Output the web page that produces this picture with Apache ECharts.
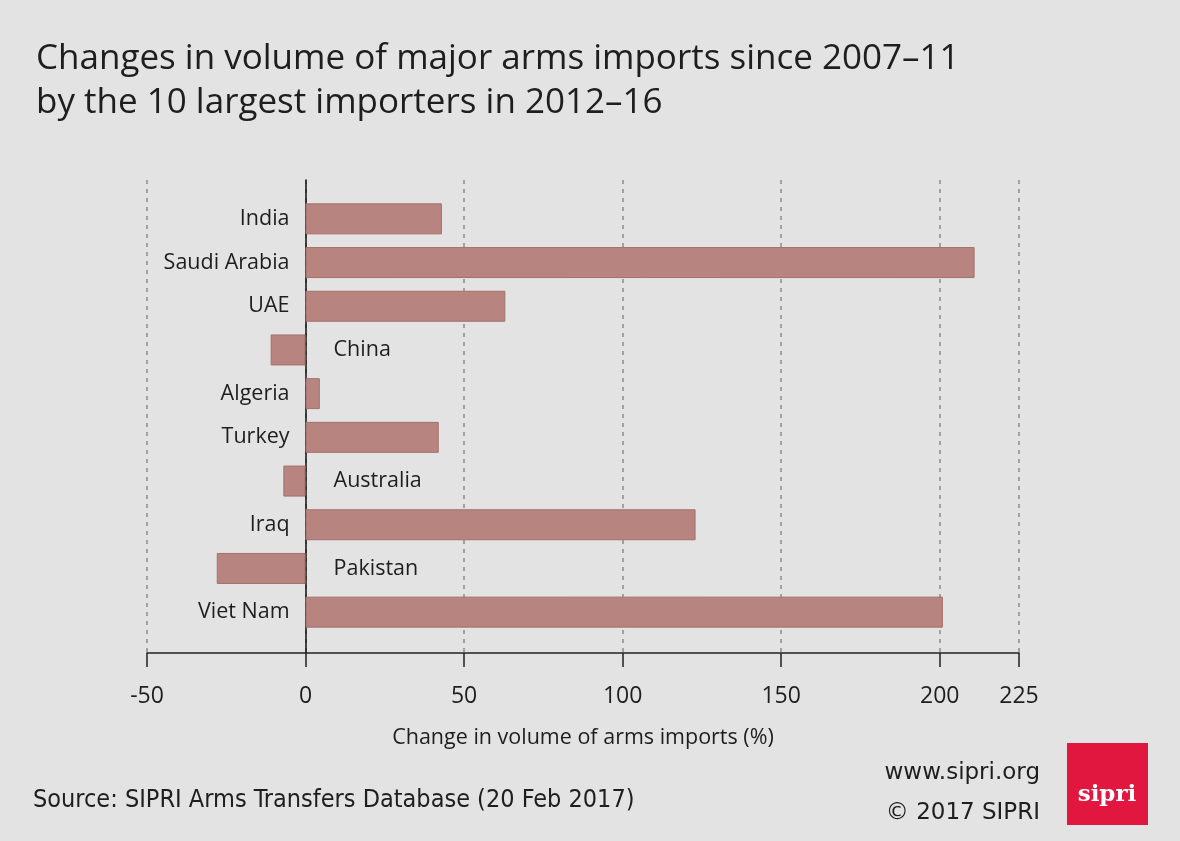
<!DOCTYPE html>
<html>
<head>
<meta charset="utf-8">
<script src="https://cdn.jsdelivr.net/npm/echarts@6/dist/echarts.min.js"></script>
<style>
html,body{margin:0;padding:0;background:#e3e3e3;}
#chart{width:1180px;height:841px;}
</style>
</head>
<body>
<div id="chart"></div>
<script>
const countries = ['India','Saudi Arabia','UAE','China','Algeria','Turkey','Australia','Iraq','Pakistan','Viet Nam'];
const changes = [43, 211, 63, -11, 4.5, 42, -7, 123, -28, 201];
const tickValues = [-50, 0, 50, 100, 150, 200, 225];
const gridValues = [-50, 50, 100, 150, 200, 225];
const xMin = -50, xMax = 225;

const chart = echarts.init(document.getElementById('chart'));
const textColor = '#1e1e1e';
const labelFont = 'Open Sans';

const barData = changes.map(v => ({
  value: v,
  label: { position: v >= 0 ? 'left' : 'right', distance: v >= 0 ? 16 : 28 }
}));

chart.setOption({
  backgroundColor: '#e3e3e3',
  animation: false,
  title: {
    text: 'Changes in volume of major arms imports since 2007\u201311\nby the 10 largest importers in 2012\u201316',
    left: 31, top: 32,
    textStyle: { fontFamily: 'Open Sans', fontWeight: 'normal', fontSize: 35, lineHeight: 44, color: textColor }
  },
  grid: [
    { left: 147, right: 161, top: 180, bottom: 188 },
    { left: 147, right: 161, top: 197, bottom: 207 }
  ],
  xAxis: [
    {
      gridIndex: 0, type: 'value', min: xMin, max: xMax,
      axisLine: { show: true, lineStyle: { color: '#222', width: 1.5 } },
      axisTick: { show: true, customValues: tickValues, length: 14, lineStyle: { color: '#222', width: 1.5 } },
      axisLabel: { customValues: tickValues, margin: 32, fontFamily: labelFont, fontSize: 23, color: textColor },
      splitLine: { show: true, customValues: gridValues, lineStyle: { color: '#8c8c8c', width: 1.5, type: [4, 5] } },
      name: 'Change in volume of arms imports (%)',
      nameLocation: 'middle', nameGap: 74,
      nameTextStyle: { fontFamily: labelFont, fontSize: 21.5, color: textColor }
    },
    {
      gridIndex: 1, type: 'value', min: xMin, max: xMax, show: false,
      splitLine: { show: false }
    }
  ],
  yAxis: [
    {
      gridIndex: 0, type: 'value', min: 0, max: 1,
      axisLine: { show: true, onZero: true, lineStyle: { color: '#111', width: 1.5 } },
      axisTick: { show: false }, axisLabel: { show: false }, splitLine: { show: false }
    },
    {
      gridIndex: 1, type: 'category', data: countries, inverse: true, show: false
    }
  ],
  series: [
    {
      type: 'bar', xAxisIndex: 1, yAxisIndex: 1,
      data: barData, barWidth: 31,
      itemStyle: { color: '#b8847f', borderColor: '#a4706c', borderWidth: 1 },
      label: {
        show: true, formatter: '{b}',
        fontFamily: labelFont, fontSize: 21.5, color: textColor
      }
    }
  ],
  graphic: [
    { type: 'text', left: 33, top: 788,
      style: { text: 'Source: SIPRI Arms Transfers Database (20 Feb 2017)', font: '25px "Liberation Sans Narrow", "DejaVu Sans Condensed", sans-serif', fill: textColor } },
    { type: 'text', right: 140, top: 762,
      style: { text: 'www.sipri.org', font: '23px "DejaVu Sans"', fill: textColor, textAlign: 'right' } },
    { type: 'text', right: 140, top: 802,
      style: { text: '\u00a9 2017 SIPRI', font: '23px "DejaVu Sans"', fill: textColor, textAlign: 'right' } },
    { type: 'rect', shape: { x: 1067, y: 743, width: 81, height: 82 }, style: { fill: '#e2173f' } },
    { type: 'text', x: 1107, y: 795,
      style: { text: 'sipri', font: 'bold 23px "DejaVu Serif", "Liberation Serif", serif', fill: '#ffffff', textAlign: 'center', textVerticalAlign: 'middle' } }
  ]
});
</script>
</body>
</html>
